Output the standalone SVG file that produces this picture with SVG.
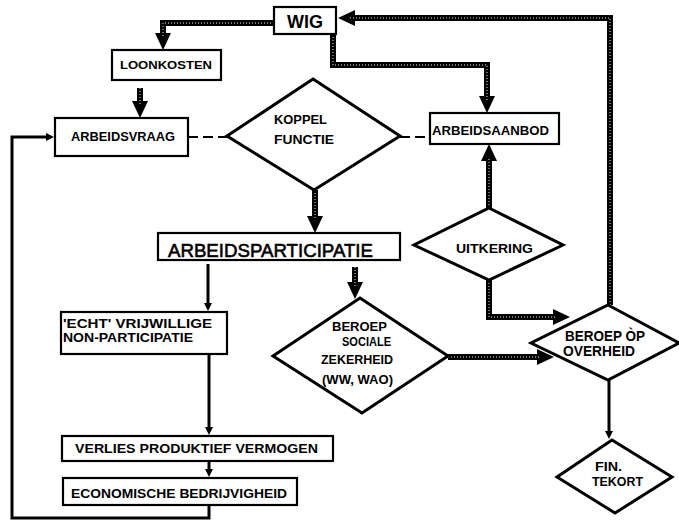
<svg xmlns="http://www.w3.org/2000/svg" width="679" height="521" viewBox="0 0 679 521">
<defs>
<style>
.box{fill:#fff;stroke:#000;stroke-width:2.2}
.dia{fill:#fff;stroke:#000;stroke-width:3;stroke-linejoin:miter}
.t{font-family:"Liberation Sans",Arial,sans-serif;font-weight:bold;fill:#000}
.big{stroke:#000;stroke-width:6;fill:none;stroke-linejoin:miter}
.inner{stroke:#999;stroke-width:1.5;fill:none;stroke-dasharray:1 2}
.thin{stroke:#000;stroke-width:3;fill:none}
.dash{stroke:#000;stroke-width:2;fill:none;stroke-dasharray:10 5}
</style>
<marker id="ah" markerUnits="userSpaceOnUse" markerWidth="17" markerHeight="16" viewBox="0 0 17 16" refX="8" refY="8" orient="auto">
<path d="M0,0 L17,8 L0,16 z" fill="#000"/>
</marker>
<marker id="as" markerUnits="userSpaceOnUse" markerWidth="8" markerHeight="8" viewBox="0 0 8 8" refX="4" refY="4" orient="auto">
<path d="M0,0 L8,4 L0,8 z" fill="#000"/>
</marker>
</defs>
<rect width="679" height="521" fill="#fff"/>
<g id="connectors">
<path class="big" d="M274,23 H163 V41" marker-end="url(#ah)"/>
<path class="big" d="M140,88 V109" marker-end="url(#ah)"/>
<path class="big" d="M333,34 V65 H487 V104" marker-end="url(#ah)"/>
<path class="big" d="M610,305 V18 H347" marker-end="url(#ah)"/>
<path class="big" d="M315,190 V224" marker-end="url(#ah)"/>
<path class="big" d="M489,208 V153" marker-end="url(#ah)"/>
<path class="big" d="M489,280 V317 H561" marker-end="url(#ah)"/>
<path class="big" d="M355,267 V290" marker-end="url(#ah)"/>
<path class="big" d="M448,357 H545" marker-end="url(#ah)"/>
<path class="inner" d="M274,23 H163 V38 M140,88 V106 M333,34 V65 H487 V100 M610,305 V18 H350 M315,190 V220 M489,208 V157 M489,280 V317 H556 M355,267 V287 M448,357 H540"/>
<path class="thin" d="M208,264 V307" marker-end="url(#as)"/>
<path class="thin" d="M209,354 V431" marker-end="url(#as)"/>
<path class="thin" d="M209,461 V473" marker-end="url(#as)"/>
<path class="thin" d="M209,505 V518 H12 V137 H50" marker-end="url(#as)"/>
<path class="thin" d="M609,380 V435" marker-end="url(#as)"/>
<path class="dash" d="M188,137 H227"/>
<path class="dash" d="M400,137 H430"/>
</g>
<g id="wig"><rect class="box" x="274" y="7" width="62" height="27"/><text class="t" x="287" y="28" font-size="18" textLength="36" lengthAdjust="spacingAndGlyphs">WIG</text></g>
<g id="loonkosten"><rect class="box" x="112" y="50" width="109" height="30"/><text class="t" x="120" y="69" font-size="11.5" textLength="92" lengthAdjust="spacingAndGlyphs">LOONKOSTEN</text></g>
<g id="arbeidsvraag"><rect class="box" x="55" y="118" width="133" height="38"/><text class="t" x="71" y="141" font-size="12.5" textLength="104" lengthAdjust="spacingAndGlyphs">ARBEIDSVRAAG</text></g>
<g id="koppelfunctie"><polygon class="dia" points="313,79 400,136 314,190 227,136"/><text class="t" x="274" y="124" font-size="12" textLength="53" lengthAdjust="spacingAndGlyphs">KOPPEL</text><text class="t" x="274" y="144" font-size="12" textLength="60" lengthAdjust="spacingAndGlyphs">FUNCTIE</text></g>
<g id="arbeidsaanbod"><rect class="box" x="430" y="113" width="129" height="31"/><text class="t" x="432" y="135" font-size="13" textLength="117" lengthAdjust="spacingAndGlyphs">ARBEIDSAANBOD</text></g>
<g id="arbeidsparticipatie"><rect class="box" x="158" y="233" width="242" height="27"/><text class="t" x="168" y="257" font-size="19" style="font-weight:normal;stroke:#000;stroke-width:0.6" textLength="205" lengthAdjust="spacingAndGlyphs">ARBEIDSPARTICIPATIE</text></g>
<g id="uitkering"><polygon class="dia" points="489,208 563,245 489,280 414,245"/><text class="t" x="456" y="253" font-size="13" textLength="77" lengthAdjust="spacingAndGlyphs">UITKERING</text></g>
<g id="echt"><rect class="box" x="61" y="312" width="166" height="42"/><text class="t" x="63" y="328" font-size="12" textLength="149" lengthAdjust="spacingAndGlyphs">'ECHT' VRIJWILLIGE</text><text class="t" x="63" y="342" font-size="12" textLength="130" lengthAdjust="spacingAndGlyphs">NON-PARTICIPATIE</text></g>
<g id="beroepsociale"><polygon class="dia" points="360,298 448,356 362,413 273,356"/><text class="t" x="332" y="331" font-size="12" textLength="55" lengthAdjust="spacingAndGlyphs">BEROEP</text><text class="t" x="342" y="346" font-size="12" textLength="49" lengthAdjust="spacingAndGlyphs">SOCIALE</text><text class="t" x="321" y="364" font-size="12.5" textLength="72" lengthAdjust="spacingAndGlyphs">ZEKERHEID</text><text class="t" x="322" y="384" font-size="12.5" textLength="71" lengthAdjust="spacingAndGlyphs">(WW, WAO)</text></g>
<g id="beroepoverheid"><polygon class="dia" points="608,305 679,343 608,380 531,343"/><text class="t" x="565" y="341" font-size="14" textLength="80" lengthAdjust="spacingAndGlyphs">BEROEP ÒP</text><text class="t" x="563" y="356" font-size="14" textLength="72" lengthAdjust="spacingAndGlyphs">OVERHEID</text></g>
<g id="verlies"><rect class="box" x="62" y="436" width="271" height="25"/><text class="t" x="75" y="453" font-size="13" textLength="243" lengthAdjust="spacingAndGlyphs">VERLIES PRODUKTIEF VERMOGEN</text></g>
<g id="economische"><rect class="box" x="63" y="478" width="234" height="27"/><text class="t" x="71" y="498" font-size="12.5" textLength="216" lengthAdjust="spacingAndGlyphs">ECONOMISCHE BEDRIJVIGHEID</text></g>
<g id="fintekort"><polygon class="dia" points="612,440 672,477 615,513 557,477"/><text class="t" x="595" y="471" font-size="12.5" textLength="27" lengthAdjust="spacingAndGlyphs">FIN.</text><text class="t" x="592" y="486" font-size="12.5" textLength="51" lengthAdjust="spacingAndGlyphs">TEKORT</text></g>
</svg>
